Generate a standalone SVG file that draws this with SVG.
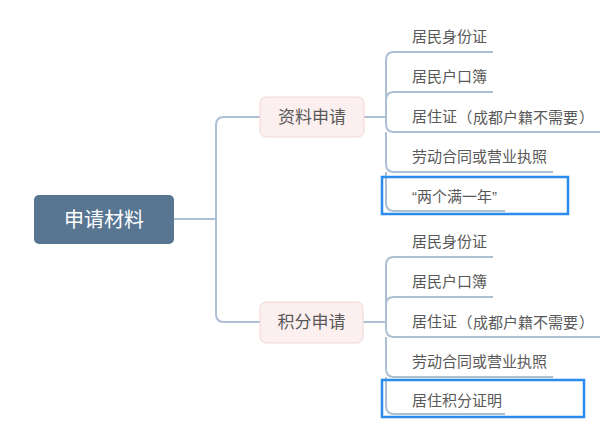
<svg xmlns="http://www.w3.org/2000/svg" width="606" height="435" viewBox="0 0 606 435">
<style>
text{font-family:"Liberation Sans","Noto Sans CJK SC",sans-serif;dominant-baseline:central}
.root{fill:#587592}
.rt{fill:#ffffff;font-size:20px;text-anchor:middle}
.br{fill:#fcefef;stroke:#f3d6d6;stroke-width:1}
.bt{fill:#595959;font-size:17px;text-anchor:middle}
.lt{fill:#595959;font-size:15px}
.ln{fill:none;stroke:#adbfd3;stroke-width:2}
.hl{fill:none;stroke:#2a8cec;stroke-width:2.5}
</style>
<rect width="606" height="435" fill="#ffffff"/>
<g id="connectors">
<path class="ln" d="M174 219 H216 V125 Q216 117 224 117 H260"/>
<path class="ln" d="M216 219 V314 Q216 322 224 322 H260"/>
<path class="ln" d="M364 117 H386 V60 Q386 52 394 52 H493"/>
<path class="ln" d="M386 100 Q386 92 394 92 H493"/>
<path class="ln" d="M386 117 V124 Q386 132 394 132 H600"/>
<path class="ln" d="M386 132 V164 Q386 172 394 172 H553"/>
<path class="ln" d="M386 172 V203 Q386 211 394 211 H505"/>
<path class="ln" d="M386 60 V100"/>
<path class="ln" d="M363 322 H386 V265 Q386 257 394 257 H493"/>
<path class="ln" d="M386 305 Q386 297 394 297 H493"/>
<path class="ln" d="M386 322 V329 Q386 337 394 337 H600"/>
<path class="ln" d="M386 337 V369 Q386 377 394 377 H553"/>
<path class="ln" d="M386 377 V406 Q386 414 394 414 H505"/>
<path class="ln" d="M386 265 V305"/>
</g>
<g id="root"><rect class="root" x="34" y="195" width="140" height="49" rx="5"/><text class="rt" x="104" y="219.5">申请材料</text></g>
<g id="b1"><rect class="br" x="260" y="97" width="104" height="40" rx="6"/><text class="bt" x="312" y="117">资料申请</text></g>
<g id="b2"><rect class="br" x="260" y="302" width="103" height="41" rx="6"/><text class="bt" x="311.5" y="322">积分申请</text></g>
<g id="l1"><text class="lt" x="412" y="36.5">居民身份证</text></g>
<g id="l2"><text class="lt" x="412" y="76.5">居民户口簿</text></g>
<g id="l3"><text class="lt" x="412" y="116.5">居住证<tspan x="457.5">（</tspan><tspan x="473">成都户籍不需要</tspan><tspan x="579">）</tspan></text></g>
<g id="l4"><text class="lt" x="412" y="156.5">劳动合同或营业执照</text></g>
<g id="l5"><rect class="hl" x="382" y="177" width="186" height="37"/><text class="lt" x="412" y="196">“两个满一年”</text></g>
<g id="l6"><text class="lt" x="412" y="241.5">居民身份证</text></g>
<g id="l7"><text class="lt" x="412" y="281.5">居民户口簿</text></g>
<g id="l8"><text class="lt" x="412" y="321.5">居住证<tspan x="457.5">（</tspan><tspan x="473">成都户籍不需要</tspan><tspan x="579">）</tspan></text></g>
<g id="l9"><text class="lt" x="412" y="361.5">劳动合同或营业执照</text></g>
<g id="l10"><rect class="hl" x="382" y="380" width="202" height="37"/><text class="lt" x="412" y="400">居住积分证明</text></g>
</svg>
